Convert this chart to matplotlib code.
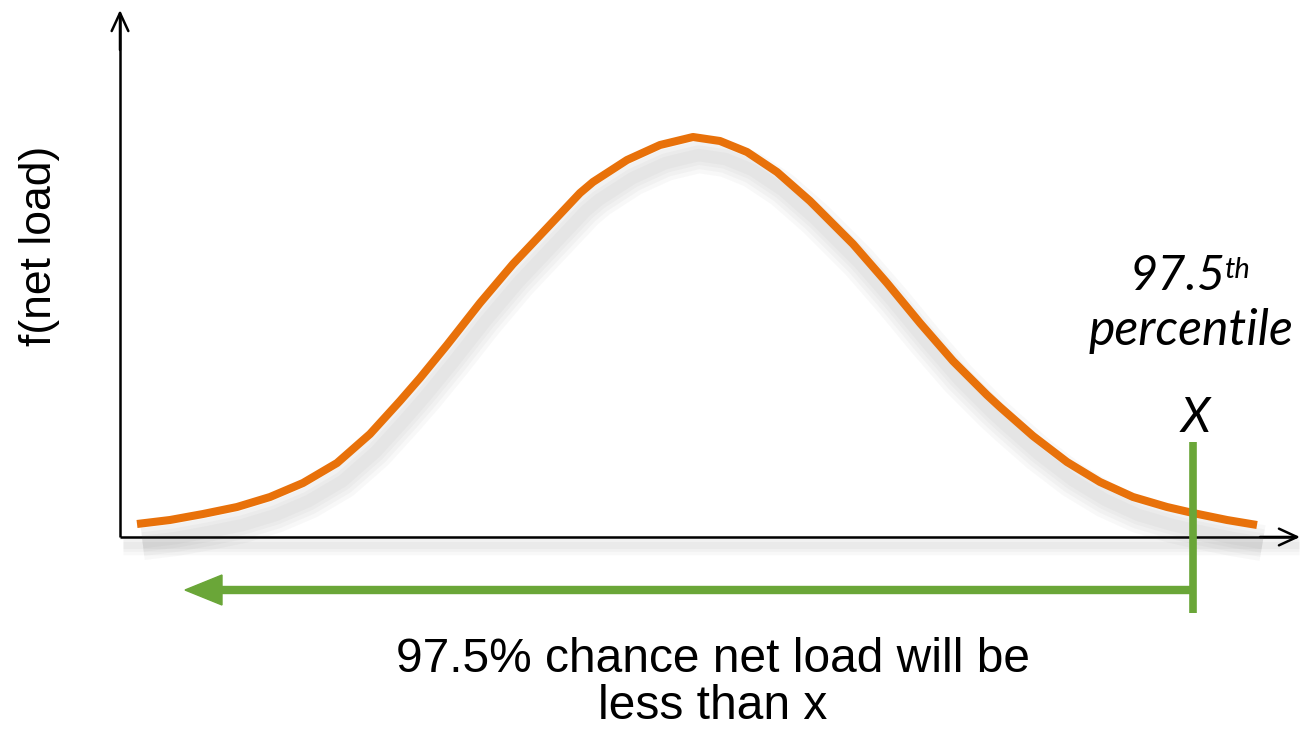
import matplotlib
matplotlib.use('Agg')
import matplotlib.pyplot as plt
import matplotlib.patheffects as pe

# density curve (x: net load, y: f(net load)), arbitrary units
net_load = [17, 50, 83, 117, 150, 183, 217, 250, 280, 300, 327, 360, 393, 427,
            460, 473, 507, 540, 573, 600, 627, 657, 690, 717, 733, 767, 800,
            833, 867, 880, 913, 947, 980, 1013, 1047, 1073, 1107, 1137]
density = [13, 17, 23, 30, 40, 54, 74, 103, 136, 159, 192, 234, 273, 309,
           344, 355, 377, 392, 400, 396, 385, 365, 336, 309, 293, 254, 214,
           176, 142, 130, 101, 75, 55, 40, 30, 24, 17, 12]

x_97_5 = 1073          # 97.5th percentile position
x_axis_end = 1180
y_axis_end = 527

ORANGE = '#E8710A'
GREEN = '#6AA638'

fig = plt.figure(figsize=(13.06, 7.31), dpi=100)
ax = fig.add_axes([0, 0, 1, 1])
ax.set_xlim(-120, 1186)
ax.set_ylim(-194, 537)
ax.axis('off')


def soft_shadow(widths, alpha, offset):
    fx = [pe.SimpleLineShadow(offset=offset, shadow_color='0.3', alpha=alpha,
                              linewidth=w) for w in widths]
    return fx + [pe.Normal()]


# axes with open arrow heads
head = '->,head_length=1.3,head_width=0.6'
ax.plot([0, x_axis_end - 4], [0, 0], color='black', lw=1.8, solid_capstyle='butt',
        path_effects=soft_shadow((14, 9, 5), 0.04, (2, -6)))
ax.plot([0, 0], [0, y_axis_end - 4], color='black', lw=1.8, solid_capstyle='butt')
ax.annotate('', xy=(x_axis_end, 0), xytext=(x_axis_end - 40, 0),
            arrowprops=dict(arrowstyle=head, lw=1.8, color='black',
                            shrinkA=0, shrinkB=0))
ax.annotate('', xy=(0, y_axis_end), xytext=(0, y_axis_end - 40),
            arrowprops=dict(arrowstyle=head, lw=1.8, color='black',
                            shrinkA=0, shrinkB=0))

# bell curve with its soft drop shadow
ax.plot(net_load, density, color=ORANGE, lw=5.8, solid_capstyle='butt',
        solid_joinstyle='round',
        path_effects=soft_shadow((26, 20, 14, 9), 0.035, (4, -13)), zorder=3)

# 97.5th percentile marker and arrow
ax.plot([x_97_5, x_97_5], [95, -76], color=GREEN, lw=5.5, solid_capstyle='butt',
        zorder=4)
ax.arrow(x_97_5, -53, 65 - x_97_5, 0, width=7, head_width=30, head_length=37,
         length_includes_head=True, color=GREEN, zorder=4)

# labels
ax.text(-80, 291, 'f(net load)', rotation=90, ha='center', va='center',
        fontsize=32, family='Liberation Sans')
pct = dict(family='Lato', style='italic')
ax.text(x_97_5 + 33, 247, '97.5', ha='right', va='baseline', fontsize=35, **pct)
ax.text(x_97_5 + 32, 259, 'th', ha='left', va='baseline', fontsize=21, **pct)
ax.text(x_97_5 - 2, 192, 'percentile', ha='center', va='baseline', fontsize=36,
        **pct)
ax.text(x_97_5 + 2, 105, 'X', ha='center', va='baseline', fontsize=35, **pct)
ax.text(593, -135, '97.5% chance net load will be', ha='center', va='baseline',
        fontsize=34.5, family='Liberation Sans')
ax.text(593, -182, 'less than x', ha='center', va='baseline', fontsize=34.5,
        family='Liberation Sans')

fig.savefig('out.png', dpi=100, facecolor='white')
